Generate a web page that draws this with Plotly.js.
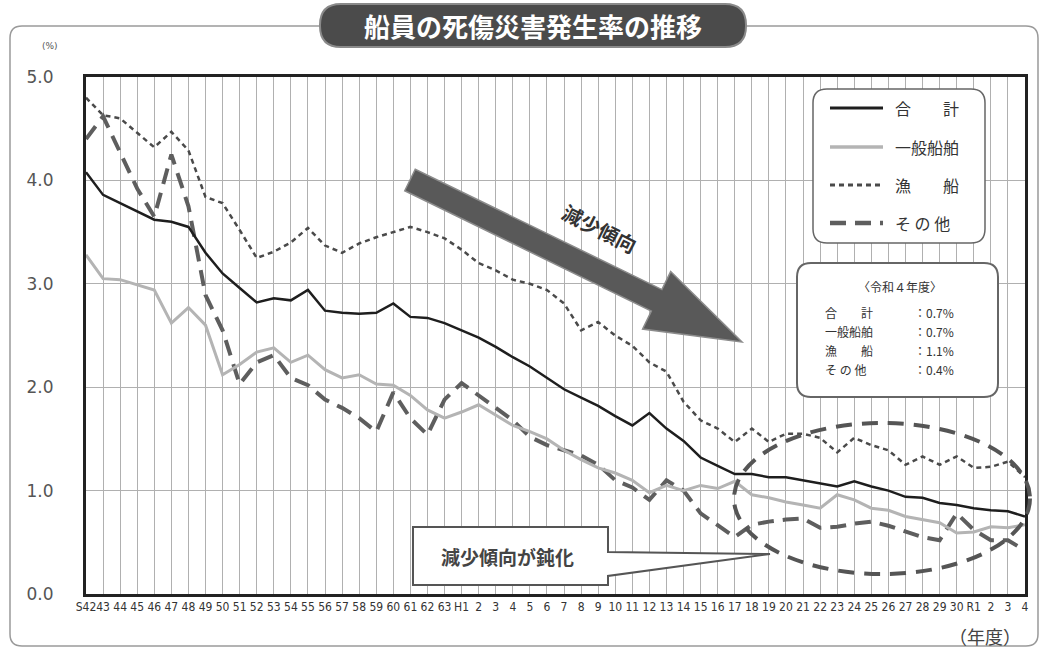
<!DOCTYPE html>
<html><head><meta charset="utf-8">
<script src="https://cdn.plot.ly/plotly-3.0.1.min.js"></script>
<style>html,body{margin:0;padding:0;background:#fff;}#chart{width:1046px;height:653px;}</style>
</head><body><div id="chart"></div>
<script>
// ---- data ----
const yearLabels = ["S42","43","44","45","46","47","48","49","50","51","52","53","54","55","56","57","58","59","60","61","62","63",
 "H1","2","3","4","5","6","7","8","9","10","11","12","13","14","15","16","17","18","19","20","21","22","23","24","25","26","27","28","29","30",
 "R1","2","3","4"];
const totalRate = [4.08,3.86,3.78,3.70,3.62,3.60,3.55,3.30,3.10,2.96,2.82,2.86,2.84,2.94,2.74,2.72,2.71,2.72,2.81,2.68,2.67,2.62,
 2.55,2.48,2.39,2.29,2.20,2.09,1.98,1.90,1.82,1.72,1.63,1.75,1.60,1.48,1.32,1.24,1.16,1.16,1.13,1.13,1.10,1.07,1.04,1.09,1.04,1.00,0.94,0.93,0.88,0.86,
 0.83,0.81,0.80,0.75];
const generalRate = [3.28,3.05,3.04,2.99,2.94,2.62,2.77,2.60,2.12,2.22,2.34,2.38,2.24,2.31,2.17,2.09,2.12,2.03,2.02,1.92,1.78,1.70,
 1.76,1.83,1.73,1.63,1.57,1.50,1.39,1.30,1.22,1.17,1.10,0.98,1.05,1.00,1.05,1.02,1.09,0.96,0.93,0.89,0.86,0.83,0.96,0.91,0.83,0.81,0.75,0.72,0.69,0.59,
 0.60,0.65,0.64,0.67];
const fishingRate = [4.80,4.63,4.60,4.46,4.32,4.47,4.29,3.84,3.78,3.52,3.25,3.31,3.40,3.54,3.37,3.30,3.39,3.45,3.50,3.55,3.50,3.44,
 3.33,3.20,3.13,3.04,3.00,2.94,2.81,2.55,2.63,2.50,2.40,2.24,2.15,1.86,1.68,1.60,1.47,1.60,1.47,1.55,1.55,1.51,1.37,1.51,1.44,1.39,1.25,1.33,1.25,1.33,
 1.22,1.23,1.28,1.13];
const otherRate = [4.40,4.62,4.27,3.92,3.65,4.25,3.75,2.89,2.55,2.03,2.24,2.31,2.09,2.02,1.88,1.80,1.70,1.57,1.95,1.70,1.54,1.88,
 2.04,1.92,1.80,1.68,1.52,1.44,1.39,1.34,1.25,1.10,1.03,0.91,1.10,1.00,0.78,0.66,0.55,0.67,0.70,0.72,0.73,0.64,0.65,0.68,0.70,0.66,0.60,0.55,0.52,0.78,
 0.62,0.52,0.52,0.42];
const seriesNames = ["合　　計","一般船舶","漁　　船","そ の 他"];
const r4Values = ["0.7%","0.7%","1.1%","0.4%"];
const yTicks = [0,1,2,3,4,5];

// ---- geometry helpers (pixel -> paper) ----
const W=1046,H=653,L=86,R=1025,T=77,B=594;
const X = x => ((x-L)/(R-L)).toFixed(5);
const Y = y => ((B-y)/(B-T)).toFixed(5);
function poly(pts){return 'M'+pts.map(p=>X(p[0])+','+Y(p[1])).join(' L')+' Z';}
function rr(x0,y0,x1,y1,r){
  return `M${X(x0+r)},${Y(y0)} L${X(x1-r)},${Y(y0)} Q${X(x1)},${Y(y0)} ${X(x1)},${Y(y0+r)} L${X(x1)},${Y(y1-r)} Q${X(x1)},${Y(y1)} ${X(x1-r)},${Y(y1)} L${X(x0+r)},${Y(y1)} Q${X(x0)},${Y(y1)} ${X(x0)},${Y(y1-r)} L${X(x0)},${Y(y0+r)} Q${X(x0)},${Y(y0)} ${X(x0+r)},${Y(y0)} Z`;
}
const xs = yearLabels.map((_,i)=>i);
const JP = '"Noto Sans CJK JP", sans-serif';

const styles = [
  {color:'#1e1e1e', width:2.5, dash:'solid'},
  {color:'#b4b4b4', width:3, dash:'solid'},
  {color:'#4a4a4a', width:2.5, dash:'5px,4px'},
  {color:'#5e5e5e', width:4, dash:'16px,9px'}
];
const seriesData = [totalRate, generalRate, fishingRate, otherRate];
const order = [3,1,2,0];
const traces = order.map(k=>({
  type:'scatter', mode:'lines', x:xs, y:seriesData[k], name:seriesNames[k],
  line:{color:styles[k].color, width:styles[k].width, dash:styles[k].dash},
  showlegend:false, hoverinfo:'x+y'
}));

// ---- decorations ----
const shapes = [];
const ann = [];
shapes.push({type:'path', xref:'paper', yref:'paper', path: rr(10,26,1038,646,12), line:{color:'#9a9a9a', width:1.5}, layer:'below'});
shapes.push({type:'path', xref:'paper', yref:'paper', path: rr(320,4,746,47,21), fillcolor:'#4b4b4b', line:{color:'#8a8a8a', width:2}});
ann.push({xref:'paper', yref:'paper', x:X(533), y:Y(26), text:'<b>船員の死傷災害発生率の推移</b>', showarrow:false,
  font:{family:JP, size:26, color:'#ffffff'}, xanchor:'center', yanchor:'middle'});
ann.push({xref:'paper', yref:'paper', x:X(50), y:Y(46), text:'(%)', showarrow:false, font:{family:'DejaVu Sans', size:9, color:'#555'}, xanchor:'center', yanchor:'middle'});
ann.push({xref:'paper', yref:'paper', x:X(985), y:Y(636), text:'（年度）', showarrow:false, font:{family:JP, size:18, color:'#444'}, xanchor:'center', yanchor:'middle'});

shapes.push({type:'path', xref:'paper', yref:'paper', path: rr(813,89,985,243,14), fillcolor:'#ffffff', line:{color:'#666', width:1.5}});
const legY = [108,147,185,223];
[0,1,2,3].forEach(k=>{
  shapes.push({type:'line', xref:'paper', yref:'paper', x0:X(830), x1:X(883), y0:Y(legY[k]), y1:Y(legY[k]),
    line:{color:styles[k].color, width:styles[k].width+0.5, dash:styles[k].dash}});
  ann.push({xref:'paper', yref:'paper', x:X(893), y:Y(legY[k]), text:seriesNames[k], showarrow:false,
    font:{family:JP, size:16, color:'#333'}, xanchor:'left', yanchor:'middle'});
});

shapes.push({type:'path', xref:'paper', yref:'paper', path: rr(797,263,998,397,14), fillcolor:'#ffffff', line:{color:'#666', width:2}});
ann.push({xref:'paper', yref:'paper', x:X(900), y:Y(286), text:'〈令和４年度〉', showarrow:false, font:{family:JP, size:12, color:'#333'}, xanchor:'center', yanchor:'middle'});
const infoY = [312,331,350,369];
[0,1,2,3].forEach(k=>{
  ann.push({xref:'paper', yref:'paper', x:X(823), y:Y(infoY[k]), text:seriesNames[k], showarrow:false, font:{family:JP, size:12, color:'#333'}, xanchor:'left', yanchor:'middle'});
  ann.push({xref:'paper', yref:'paper', x:X(912), y:Y(infoY[k]), text:'：'+r4Values[k], showarrow:false, font:{family:JP, size:12, color:'#333'}, xanchor:'left', yanchor:'middle'});
});

(function(){
  const tx=410, ty=180, hx=742, hy=342;
  const dx=hx-tx, dy=hy-ty, len=Math.hypot(dx,dy), ux=dx/len, uy=dy/len, nx=-uy, ny=ux;
  const sw=12, hw=32, hl=95;
  const bx=hx-ux*hl, by=hy-uy*hl;
  const pts=[[tx+nx*sw,ty+ny*sw],[bx+nx*sw,by+ny*sw],[bx+nx*hw,by+ny*hw],[hx,hy],[bx-nx*hw,by-ny*hw],[bx-nx*sw,by-ny*sw],[tx-nx*sw,ty-ny*sw]];
  shapes.push({type:'path', xref:'paper', yref:'paper', path: poly(pts), fillcolor:'#595959', line:{color:'#8c8c8c', width:1.5}});
})();
ann.push({xref:'paper', yref:'paper', x:X(600), y:Y(228), text:'<b>減少傾向</b>', showarrow:false, textangle:27,
  font:{family:JP, size:20, color:'#333'}, xanchor:'center', yanchor:'middle'});

shapes.push({type:'circle', xref:'paper', yref:'paper', x0:X(734), x1:X(1030), y0:Y(423), y1:Y(574),
  line:{color:'#555', width:4, dash:'16px,10px'}});

shapes.push({type:'path', xref:'paper', yref:'paper',
  path: poly([[413,527],[608,527],[608,552],[770,554],[608,576],[608,585],[413,585]]),
  fillcolor:'#ffffff', line:{color:'#555', width:2}});
ann.push({xref:'paper', yref:'paper', x:X(508), y:Y(557), text:'<b>減少傾向が鈍化</b>', showarrow:false,
  font:{family:JP, size:19, color:'#444'}, xanchor:'center', yanchor:'middle'});

const layout = {
  width:W, height:H, autosize:false,
  margin:{l:L, r:W-R, t:T, b:H-B, pad:0},
  paper_bgcolor:'#ffffff', plot_bgcolor:'#ffffff',
  showlegend:false,
  xaxis:{range:[0,55], tickmode:'array', tickvals:xs, ticktext:yearLabels, tickangle:0,
    showgrid:true, gridcolor:'#b0b0b0', gridwidth:1, zeroline:false,
    showline:true, mirror:true, linecolor:'#222', linewidth:3, ticks:'',
    tickfont:{family:'"DejaVu Sans Condensed","Liberation Sans Narrow",sans-serif', size:12, color:'#333'}},
  yaxis:{range:[0,5], tickmode:'array', tickvals:yTicks, ticktext:yTicks.map(v=>v.toFixed(1)),
    showgrid:true, gridcolor:'#b0b0b0', gridwidth:1, zeroline:false,
    showline:true, mirror:true, linecolor:'#222', linewidth:3, ticks:'', ticklabelstandoff:26,
    tickfont:{family:'"DejaVu Sans", sans-serif', size:17, color:'#555'}},
  shapes:shapes, annotations:ann
};
Plotly.newPlot('chart', traces, layout, {displayModeBar:false, staticPlot:true});
</script></body></html>
